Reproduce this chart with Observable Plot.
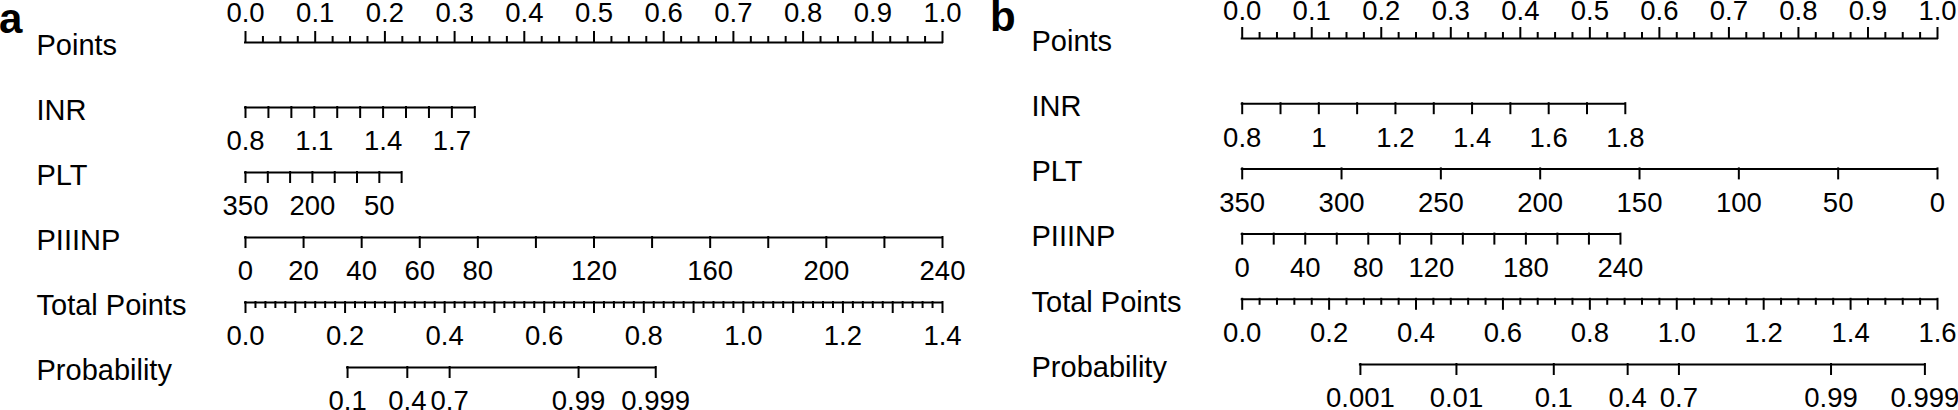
<!DOCTYPE html>
<html>
<head>
<meta charset="utf-8">
<script src="https://cdn.jsdelivr.net/npm/d3@7"></script>
<script src="https://cdn.jsdelivr.net/npm/@observablehq/plot@0.6"></script>
<style>
  html, body { margin: 0; padding: 0; background: #fff; }
  #wrap { position: relative; display: flex; width: 1958px; height: 410px; overflow: hidden; }
  .panel { position: relative; width: 979px; height: 410px; }
  .panel svg { display: block; }
  .tag { position: absolute; font-family: 'Liberation Sans', Arial, sans-serif; font-weight: bold; font-size: 42px; line-height: 42px; color: #000; }
</style>
</head>
<body>
<div id="wrap"></div>
<script>
// ---------------- data ----------------
const rowNames = ["Points", "INR", "PLT", "PIIINP", "Total Points", "Probability"];
const panelTags = ["a", "b"];

// Points axis (both panels): 0..1, labelled every 0.1, minor ticks every 0.025
const pointsLabels = [0.0, 0.1, 0.2, 0.3, 0.4, 0.5, 0.6, 0.7, 0.8, 0.9, 1.0];

// ---- panel a ----
const inrTicksA = [0.8, 0.9, 1.0, 1.1, 1.2, 1.3, 1.4, 1.5, 1.6, 1.7, 1.8];
const inrLabelsA = [0.8, 1.1, 1.4, 1.7];
const inrPointsA = [0, 0.329];            // points at INR 0.8 and 1.8
const pltTicksA = [350, 300, 250, 200, 150, 100, 50, 0];
const pltLabelsA = [350, 200, 50];
const pltPointsA = [0, 0.224];            // points at PLT 350 and 0
const piiinpTicksA = [0, 20, 40, 60, 80, 100, 120, 140, 160, 180, 200, 220, 240];
const piiinpLabelsA = [0, 20, 40, 60, 80, 120, 160, 200, 240];
const piiinpPointsA = [0, 1];             // points at PIIINP 0 and 240
const totalLabelsA = [0.0, 0.2, 0.4, 0.6, 0.8, 1.0, 1.2, 1.4];
const totalMaxA = 1.4;
const totalMajorStepA = 0.1, totalMinorStepA = 0.02;
const probLabelsA = ["0.1", "0.4", "0.7", "0.99", "0.999"];
const probTotalA = [0.205, 0.325, 0.410, 0.669, 0.824];   // total points of each probability tick

// ---- panel b ----
const inrTicksB = [0.8, 0.9, 1.0, 1.1, 1.2, 1.3, 1.4, 1.5, 1.6, 1.7, 1.8];
const inrLabelsB = [0.8, 1, 1.2, 1.4, 1.6, 1.8];
const inrPointsB = [0, 0.551];
const pltTicksB = [350, 300, 250, 200, 150, 100, 50, 0];
const pltLabelsB = [350, 300, 250, 200, 150, 100, 50, 0];
const pltPointsB = [0, 1];
const piiinpTicksB = [0, 20, 40, 60, 80, 100, 120, 140, 160, 180, 200, 220, 240];
const piiinpLabelsB = [0, 40, 80, 120, 180, 240];
const piiinpPointsB = [0, 0.544];
const totalLabelsB = [0.0, 0.2, 0.4, 0.6, 0.8, 1.0, 1.2, 1.4, 1.6];
const totalMaxB = 1.6;
const totalMajorStepB = 0.2, totalMinorStepB = 0.04;
const probLabelsB = ["0.001", "0.01", "0.1", "0.4", "0.7", "0.99", "0.999"];
const probTotalB = [0.272, 0.493, 0.717, 0.887, 1.005, 1.355, 1.571];

// ---------------- layout / style ----------------
const FONT = "'Liberation Sans', Arial, Helvetica, sans-serif";
const H = 410, W = 979;
const layouts = [
  { marginLeft: 245, marginRight: 37, marginTop: 42, marginBottom: 43, rowLabelX: 36, tagLeft: -1, tagTop: -2, topDy: -29 },
  { marginLeft: 262.7, marginRight: 21, marginTop: 38, marginBottom: 46, rowLabelX: 52, tagLeft: 11, tagTop: -4, topDy: -27 }
];
const TICK_MAJOR = 10, TICK_MINOR = 5;
const f1 = d3.format(".1f");

function buildPanel(p, L) {
  const rowPx = (H - L.marginTop - L.marginBottom) / (rowNames.length - 1);
  const lines = [], ticks = [], labels = [];
  function addRow(row, items, labelItems, dir) {
    const r = rowNames.indexOf(row);
    const xs = items.map(d => d.x);
    lines.push({ r, x1: d3.min(xs), x2: d3.max(xs) });
    const sgn = dir === "up" ? -1 : 1;
    for (const t of items) ticks.push({ x: t.x, y1: r, y2: r + sgn * (t.major ? TICK_MAJOR : TICK_MINOR) / rowPx });
    for (const l of labelItems) labels.push({ r, x: l.x, text: l.text, dir });
  }
  // Points
  const nP = Math.round(1 / 0.025);
  addRow("Points",
    d3.range(nP + 1).map(i => ({ x: i * 0.025, major: i % 4 === 0 })),
    pointsLabels.map(v => ({ x: v, text: f1(v) })), "up");
  // INR
  const sInr = d3.scaleLinear([0.8, 1.8], p.inrPoints);
  addRow("INR", p.inrTicks.map(v => ({ x: sInr(v), major: true })),
    p.inrLabels.map(v => ({ x: sInr(v), text: p.inrFmt(v) })), "down");
  // PLT
  const sPlt = d3.scaleLinear([350, 0], p.pltPoints);
  addRow("PLT", p.pltTicks.map(v => ({ x: sPlt(v), major: true })),
    p.pltLabels.map(v => ({ x: sPlt(v), text: String(v) })), "down");
  // PIIINP
  const sPi = d3.scaleLinear([0, 240], p.piiinpPoints);
  addRow("PIIINP", p.piiinpTicks.map(v => ({ x: sPi(v), major: true })),
    p.piiinpLabels.map(v => ({ x: sPi(v), text: String(v) })), "down");
  // Total Points
  const sTot = d3.scaleLinear([0, p.totalMax], [0, 1]);
  const nT = Math.round(p.totalMax / p.totalMinorStep);
  const per = Math.round(p.totalMajorStep / p.totalMinorStep);
  addRow("Total Points",
    d3.range(nT + 1).map(i => ({ x: sTot(i * p.totalMinorStep), major: i % per === 0 })),
    p.totalLabels.map(v => ({ x: sTot(v), text: f1(v) })), "down");
  // Probability
  addRow("Probability",
    p.probTotal.map(t => ({ x: sTot(t), major: true })),
    p.probLabels.map((s, i) => ({ x: sTot(p.probTotal[i]), text: s })), "down");

  const stroke = "#000", sw = 2;
  return Plot.plot({
    width: W, height: H,
    marginLeft: L.marginLeft, marginRight: L.marginRight,
    marginTop: L.marginTop, marginBottom: L.marginBottom,
    x: { domain: [0, 1], axis: null },
    y: { domain: [0, rowNames.length - 1], range: [L.marginTop, H - L.marginBottom], axis: null },
    style: { fontFamily: FONT, fontSize: "27px", color: "#000", background: "#fff", overflow: "visible" },
    marks: [
      Plot.ruleY(lines, { y: "r", x1: "x1", x2: "x2", stroke, strokeWidth: sw, strokeLinecap: "square" }),
      Plot.ruleX(ticks, { x: "x", y1: "y1", y2: "y2", stroke, strokeWidth: sw, strokeLinecap: "square" }),
      Plot.text(labels.filter(d => d.dir === "up"), { x: "x", y: "r", text: "text", dy: L.topDy, fill: "#000", fontSize: 27.5 }),
      Plot.text(labels.filter(d => d.dir === "down"), { x: "x", y: "r", text: "text", dy: 34, fill: "#000", fontSize: 27.5 }),
      Plot.text(rowNames, { y: (d, i) => i, text: d => d, frameAnchor: "left", textAnchor: "start", dx: L.rowLabelX - L.marginLeft, dy: 3, fill: "#000", fontSize: 29 })
    ]
  });
}

const panels = [
  { inrTicks: inrTicksA, inrLabels: inrLabelsA, inrPoints: inrPointsA, inrFmt: f1,
    pltTicks: pltTicksA, pltLabels: pltLabelsA, pltPoints: pltPointsA,
    piiinpTicks: piiinpTicksA, piiinpLabels: piiinpLabelsA, piiinpPoints: piiinpPointsA,
    totalLabels: totalLabelsA, totalMax: totalMaxA, totalMajorStep: totalMajorStepA, totalMinorStep: totalMinorStepA,
    probLabels: probLabelsA, probTotal: probTotalA },
  { inrTicks: inrTicksB, inrLabels: inrLabelsB, inrPoints: inrPointsB, inrFmt: v => String(v),
    pltTicks: pltTicksB, pltLabels: pltLabelsB, pltPoints: pltPointsB,
    piiinpTicks: piiinpTicksB, piiinpLabels: piiinpLabelsB, piiinpPoints: piiinpPointsB,
    totalLabels: totalLabelsB, totalMax: totalMaxB, totalMajorStep: totalMajorStepB, totalMinorStep: totalMinorStepB,
    probLabels: probLabelsB, probTotal: probTotalB }
];

const wrap = document.getElementById("wrap");
panels.forEach((p, i) => {
  const div = document.createElement("div");
  div.className = "panel";
  div.appendChild(buildPanel(p, layouts[i]));
  const tag = document.createElement("div");
  tag.className = "tag";
  tag.textContent = panelTags[i];
  tag.style.left = layouts[i].tagLeft + "px";
  tag.style.top = layouts[i].tagTop + "px";
  div.appendChild(tag);
  wrap.appendChild(div);
});
</script>
</body>
</html>
